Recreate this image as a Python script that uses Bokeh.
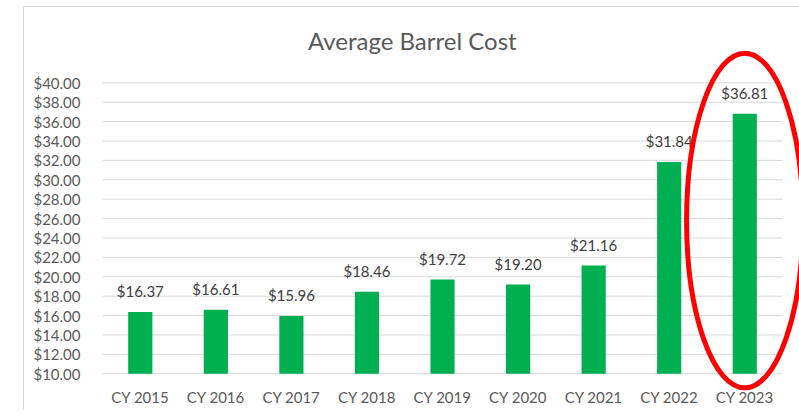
from bokeh.plotting import figure
from bokeh.models import (ColumnDataSource, FixedTicker, NumeralTickFormatter,
                          Range1d, Label)
from bokeh.core.properties import value
from bokeh.embed import file_html
from bokeh.resources import INLINE

categories = ["CY 2015", "CY 2016", "CY 2017", "CY 2018", "CY 2019",
              "CY 2020", "CY 2021", "CY 2022", "CY 2023"]
costs = [16.37, 16.61, 15.96, 18.46, 19.72, 19.20, 21.16, 31.84, 36.81]
labels = ["$%.2f" % v for v in costs]
y_ticks = list(range(10, 42, 2))
highlight = "CY 2023"

FONT = "Lato"
Y_MIN = 10
PX_PER_UNIT_Y = 9.7
PX_PER_CAT = 75.56
FRAME_W, FRAME_H = 697, 410
Y_TOP = 48.485

xs = list(range(len(categories)))
src = ColumnDataSource(dict(x=xs, top=costs, label=labels, cat=categories))

border_css = {
    "background-image": "linear-gradient(#d9d9d9,#d9d9d9), linear-gradient(#d9d9d9,#d9d9d9)",
    "background-size": "1px 100%, 100% 1px",
    "background-position": "23px 6px, 23px 6px",
    "background-repeat": "no-repeat",
}

p = figure(frame_width=FRAME_W, frame_height=FRAME_H,
           x_range=Range1d(-0.5, -0.5 + FRAME_W / PX_PER_CAT),
           y_range=Range1d(Y_TOP - FRAME_H / PX_PER_UNIT_Y, Y_TOP),
           output_backend="svg", toolbar_location=None,
           min_border_left=102, min_border_right=0, min_border_top=0,
           min_border_bottom=0, styles=border_css)
p.outline_line_color = None
p.background_fill_color = None
p.border_fill_color = None
p.grid.visible = False
p.xaxis.visible = False

# horizontal gridlines across the category band
n = len(categories)
p.segment(x0=-0.5, x1=n - 0.5, y0=y_ticks, y1=y_ticks,
          line_color="#d9d9d9", line_width=1)

# y axis
p.yaxis.ticker = FixedTicker(ticks=y_ticks)
p.yaxis.formatter = NumeralTickFormatter(format="$0.00")
p.yaxis.axis_line_color = None
p.yaxis.major_tick_line_color = None
p.yaxis.minor_tick_line_color = None
p.yaxis.major_label_text_font = FONT
p.yaxis.major_label_text_font_size = "15px"
p.yaxis.major_label_text_color = "#595959"
p.yaxis.major_label_standoff = 16

p.vbar(x="x", top="top", bottom=Y_MIN, width=0.32, source=src,
       fill_color="#00b050", line_color=None)

# value labels above bars
p.text(x="x", y="top", text="label", source=src, text_align="center",
       text_baseline="alphabetic", y_offset=-21, text_font=value(FONT),
       text_font_size="15px", text_color="#404040")

# category labels below the baseline
p.text(x="x", y=Y_MIN, text="cat", source=src, text_align="center",
       text_baseline="alphabetic", y_offset=23, text_font=value(FONT),
       text_font_size="15px", text_color="#595959")

# title
p.add_layout(Label(x=3.60, y=44.4, text="Average Barrel Cost", text_align="center",
                   text_baseline="alphabetic", text_font=FONT,
                   text_font_size="24px", text_color="#595959"))

# red highlight ellipse around the last bar
hi = categories.index(highlight)
p.ellipse(x=[hi], y=[25.8], width=[1.54], height=[34.5], fill_color=None,
          line_color="#ff0000", line_width=5)

open("out.html", "w").write(file_html(p, INLINE))
